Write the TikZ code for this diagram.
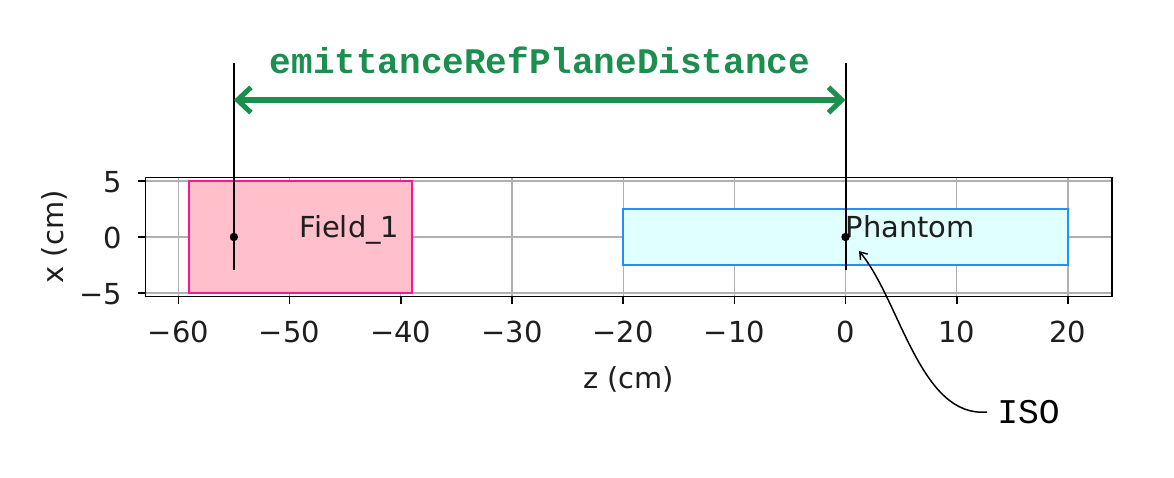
\documentclass[tikz,border=0pt]{standalone}
\usepackage{fontspec}
\setmainfont{DejaVu Sans}
\newfontfamily\monofont{Liberation Mono}
\usetikzlibrary{arrows.meta}
\definecolor{refgreen}{RGB}{26,143,78}
\definecolor{gridgray}{RGB}{176,176,176}
\definecolor{fieldfill}{RGB}{255,192,203}
\definecolor{fieldedge}{RGB}{255,20,147}
\definecolor{phantomfill}{RGB}{224,255,255}
\definecolor{phantomedge}{RGB}{30,144,255}
\definecolor{labgray}{RGB}{30,30,30}
\begin{document}
\begin{tikzpicture}[x=0.75pt,y=-0.75pt,
  ticklab/.style={font=\fontsize{21.7}{26}\selectfont, text=labgray, inner sep=0pt},
  gridline/.style={draw=gridgray, line width=0.9pt},
  frameline/.style={draw=black, line width=1.2pt},
  tickmark/.style={draw=black, line width=1.2pt},
  fieldbox/.style={fill=fieldfill, draw=fieldedge, line width=1.5pt},
  phantombox/.style={fill=phantomfill, draw=phantomedge, line width=1.5pt},
  dotmark/.style={circle, fill=black, inner sep=0pt, minimum size=6.3pt},
  refline/.style={draw=black, line width=1.5pt},
  refarrow/.style={draw=refgreen, line width=3.8pt, {Straight Barb[length=10pt,width=19pt]}-{Straight Barb[length=10pt,width=19pt]}},
  reflabel/.style={font=\monofont\bfseries\fontsize{27}{31}\selectfont, text=refgreen, inner sep=0pt},
  isolabel/.style={font=\monofont\fontsize{26}{30}\selectfont, text=black, inner ysep=0pt, inner xsep=7.5pt},
  isoarrow/.style={draw=black, line width=1.1pt, -{Straight Barb[length=5pt,width=7pt]}}
]
\useasboundingbox (0,0) rectangle (1174,478);
\fill[white] (0,0) rectangle (1174,478);

% grid
\foreach \zx in {178.3,289.5,400.7,511.9,623.1,734.3,845.5,956.7,1067.9}
  \draw[gridline] (\zx,177.5) -- (\zx,296.5);
\foreach \yy in {181,237,293}
  \draw[gridline] (145.5,\yy) -- (1111.8,\yy);

% patches
\draw[fieldbox] (189.4,181) rectangle (411.8,293);
\draw[phantombox] (623.1,209) rectangle (1067.9,265);

% frame
\draw[frameline] (145.5,177.5) rectangle (1111.8,296.5);

% x ticks and labels
\foreach \zx/\lab [count=\i] in {178.3/−60,289.5/−50,400.7/−40,511.9/−30,623.1/−20,734.3/−10,845.5/0,956.7/10,1067.9/20}{
  \draw[tickmark] (\zx,296.5) -- (\zx,304);
  \node[ticklab, anchor=base] (zt\i) at (\zx,342) {\lab};
}
% y ticks and labels
\foreach \yy/\lab [count=\i] in {181/5,237/0,293/−5}{
  \draw[tickmark] (145.5,\yy) -- (138,\yy);
  \node[ticklab, anchor=base east] (xt\i) at (122,\yy+11.5) {\lab};
}

% axis labels
\node[ticklab, anchor=base] (zlabel) at (628.6,388) {z (cm)};
\node[ticklab, anchor=base, rotate=90] (xlabel) at (63,237) {x (cm)};

% patch labels
\node[ticklab, anchor=base east] (fieldlab) at (399.5,237) {Field\_1};
\node[ticklab, anchor=base west] (phantomlab) at (845.5,237) {Phantom};

% reference lines
\coordinate (refLtop) at (233.9,63);
\coordinate (refLbot) at (233.9,270);
\coordinate (refRtop) at (845.5,63);
\coordinate (refRbot) at (845.5,270);
\draw[refline] (refLtop) -- (refLbot);
\draw[refline] (refRtop) -- (refRbot);

% centre dots
\node[dotmark] (fieldc) at (233.9,237) {};
\node[dotmark] (isoc) at (845.5,237) {};

% distance arrow
\coordinate (arrL) at (233.9,100);
\coordinate (arrR) at (845.5,100);
\draw[refarrow] (arrL) -- (arrR);
\node[reflabel] (title) at (540,60) {emittanceRefPlaneDistance};

% ISO annotation
\node[isolabel, anchor=west] (iso) at (987,412) {ISO};
\coordinate (isotip) at (859,251);
\draw[isoarrow] (iso.west) .. controls (920,418) and (900,300) .. (isotip);
\end{tikzpicture}
\end{document}
